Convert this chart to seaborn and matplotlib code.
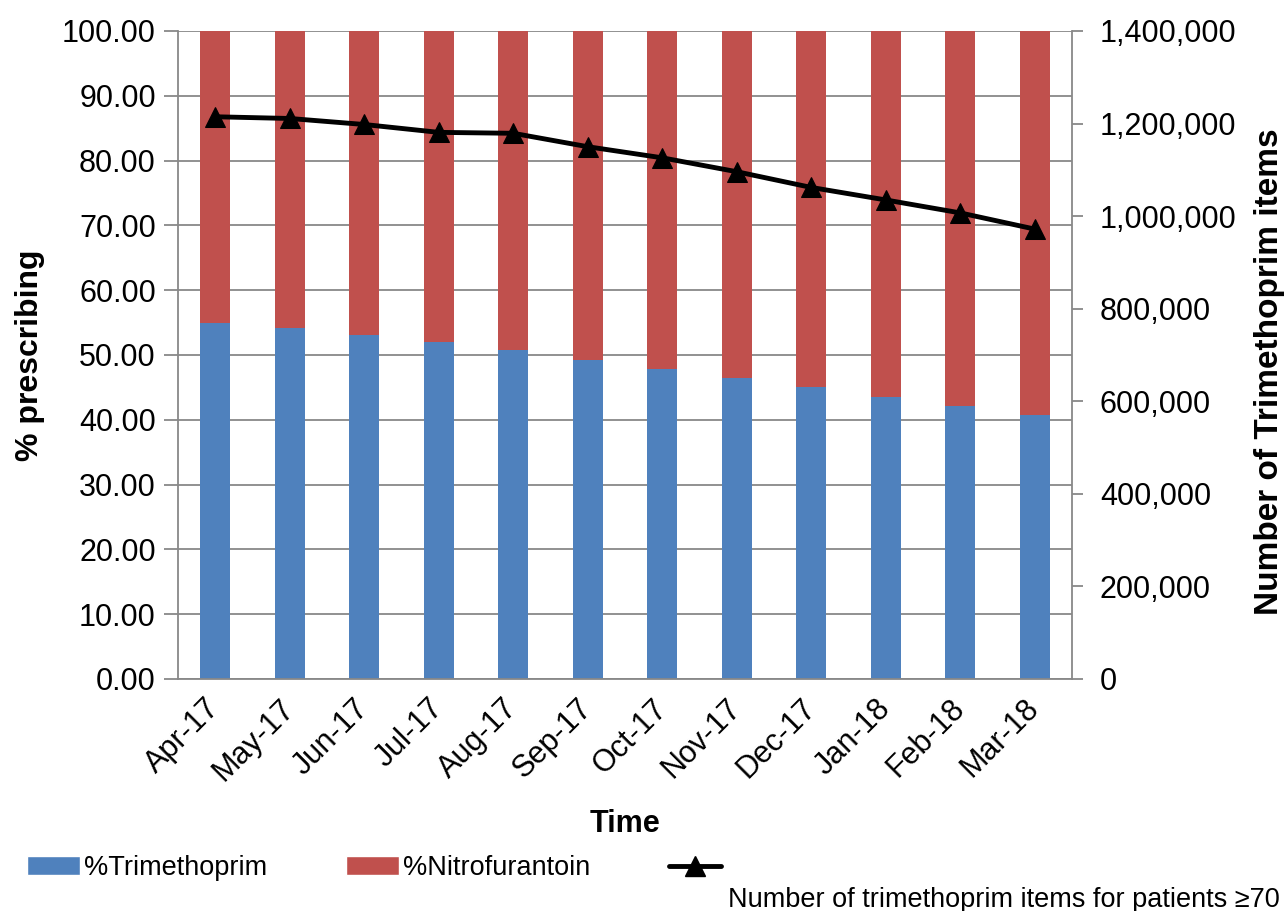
"""   Trimethoprim vs Nitrofurantoin prescribing, Apr-17 to Mar-18   """

import matplotlib.pyplot as plt
import numpy as np
import seaborn as sns
from matplotlib.patches import Patch
from matplotlib.lines import Line2D
from matplotlib.ticker import FuncFormatter, MultipleLocator


# ~~~~~~~~~~   Data   ~~~~~~~~~~~~~~~~~~~~~~~~~~~~~~~~~~~~~~~~~~~~~~~~~~~~~~~~~~~~~~~~~~~~ #
months = ['Apr-17', 'May-17', 'Jun-17', 'Jul-17', 'Aug-17', 'Sep-17',
          'Oct-17', 'Nov-17', 'Dec-17', 'Jan-18', 'Feb-18', 'Mar-18']
pct_trimethoprim = [54.9, 54.1, 53.05, 52.0, 50.8, 49.3, 47.9, 46.4, 45.0, 43.5, 42.2, 40.8]
pct_nitrofurantoin = [45.1, 45.9, 46.95, 48.0, 49.2, 50.7, 52.1, 53.6, 55.0, 56.5, 57.8, 59.2]
trimethoprim_items = [1214700, 1211000, 1198000, 1181000, 1179000, 1150000,
                      1126000, 1096000, 1062000, 1035000, 1007000, 972000]

BLUE = '#4F81BD'
RED = '#C0504D'
GREY = '#888888'


# ~~~~~~~~~~   Plot   ~~~~~~~~~~~~~~~~~~~~~~~~~~~~~~~~~~~~~~~~~~~~~~~~~~~~~~~~~~~~~~~~~~~~ #
sns.set_style('white')
plt.rcParams['font.family'] = ['Liberation Sans', 'DejaVu Sans']
plt.rcParams['text.color'] = 'black'
plt.rcParams['axes.labelcolor'] = 'black'

fig = plt.figure(figsize=(12.85, 9.11), dpi=100)
ax = fig.add_axes([178 / 1285, 1 - 679 / 911, (1072 - 178) / 1285, (679 - 31) / 911])

# stacked bars: full height (red) first, then the trimethoprim share (blue) on top
totals = [t + n for t, n in zip(pct_trimethoprim, pct_nitrofurantoin)]
sns.barplot(x=months, y=totals, color=RED, width=0.4, saturation=1, linewidth=0, ax=ax)
sns.barplot(x=months, y=pct_trimethoprim, color=BLUE, width=0.4, saturation=1, linewidth=0, ax=ax)

ax.set_xlim(-0.5, len(months) - 0.5)
ax.set_ylim(0, 100)
ax.yaxis.set_major_locator(MultipleLocator(10))
ax.yaxis.set_major_formatter(FuncFormatter(lambda v, p: f'{v:.2f}'))
ax.set_axisbelow(True)
ax.yaxis.grid(True, color=GREY, linewidth=1.3)
ax.xaxis.grid(False)

# category boundary ticks, labels at the centres
ax.set_xticks(np.arange(-0.5, len(months)), minor=True)
ax.tick_params(axis='x', which='major', length=0, pad=18, labelsize=22, labelcolor='black')
ax.tick_params(axis='x', which='minor', length=8, width=1.3, color=GREY, direction='out')
ax.tick_params(axis='y', length=10, width=1.3, color=GREY, direction='out', pad=6,
               labelsize=22, labelcolor='black')
for label in ax.get_xticklabels():
    label.set_rotation(45)
    label.set_ha('right')
    label.set_va('center')
    label.set_rotation_mode('anchor')

for side in ['left', 'bottom']:
    ax.spines[side].set_color(GREY)
    ax.spines[side].set_linewidth(1.3)
ax.spines['top'].set_visible(False)
ax.spines['right'].set_visible(False)

ax.set_xlabel('Time', fontsize=22, fontweight='bold', va='center')
ax.xaxis.set_label_coords(0.5, (679 - 824) / 648)
ax.set_ylabel('% prescribing', fontsize=23, fontweight='bold', va='center')
ax.yaxis.set_label_coords((30 - 178) / 894, 0.5)

# line on the secondary axis
ax2 = ax.twinx()
sns.lineplot(x=np.arange(len(months)), y=trimethoprim_items, color='black', linewidth=3.5,
             marker='^', markersize=15, ax=ax2)
ax2.lines[0].set_markeredgecolor('black')
ax2.set_ylim(0, 1400000)
ax2.yaxis.set_major_locator(MultipleLocator(200000))
ax2.yaxis.set_major_formatter(FuncFormatter(lambda v, p: f'{v:,.0f}'))
ax2.tick_params(axis='y', length=8, width=1.3, color=GREY, direction='out', pad=12,
                labelsize=22, labelcolor='black')
ax2.grid(False)
for side in ['left', 'bottom', 'top']:
    ax2.spines[side].set_visible(False)
ax2.spines['right'].set_color(GREY)
ax2.spines['right'].set_linewidth(1.3)
ax2.set_ylabel('Number of Trimethoprim items', fontsize=24, fontweight='bold',
               rotation=90, va='center', ha='center')
ax2.yaxis.set_label_coords((1269 - 178) / 894, (679 - 372) / 648)

# legend along the bottom, Excel style
handles = [Patch(facecolor=BLUE), Patch(facecolor=RED),
           Line2D([], [], color='black', linewidth=3.5, marker='^', markersize=15)]
fig.legend(handles, ['%Trimethoprim', '%Nitrofurantoin', ''], ncol=3, frameon=False,
           fontsize=19.5, loc='center left', bbox_to_anchor=(3 / 1285, 1 - 868 / 911),
           handlelength=1.95, handleheight=0.7, handletextpad=0.15, columnspacing=2.9)
fig.text(728 / 1285, 1 - 900 / 911, 'Number of trimethoprim items for patients ≥70',
         fontsize=19.5, ha='left', va='center')

fig.savefig('out.png', dpi=100)
